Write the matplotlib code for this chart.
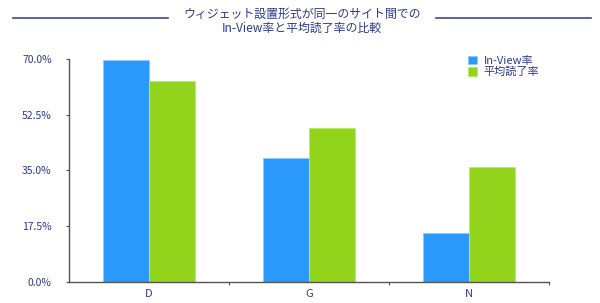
import numpy as np
import matplotlib
matplotlib.use("Agg")
import matplotlib.pyplot as plt
from matplotlib.lines import Line2D

plt.rcParams['font.family'] = ['Noto Sans CJK JP', 'DejaVu Sans']

# ---- data ----
categories = ["D", "G", "N"]
inview = [69.8, 38.8, 15.5]
readrate = [63.1, 48.2, 36.0]
series_names = ["In-View率", "平均読了率"]
yticks = [0, 17.5, 35.0, 52.5, 70.0]
title = "ウィジェット設置形式が同一のサイト間での\nIn-View率と平均読了率の比較"

navy = "#2b3a8c"
blue = "#2b99fc"
green = "#92d31b"

fig = plt.figure(figsize=(6, 3.03), dpi=100)
ax = fig.add_axes([0.115, 0.0693, 0.80, 0.736])

x = np.arange(len(categories))
w = 0.2875
ax.bar(x - w / 2, inview, w, color=blue, edgecolor="#8cc8ff", linewidth=0.6, label=series_names[0])
ax.bar(x + w / 2, readrate, w, color=green, edgecolor="#b8ec5a", linewidth=0.6, label=series_names[1])

ax.set_xlim(-0.5, 2.5)
ax.set_ylim(0, 70)
ax.set_yticks(yticks)
ax.set_yticklabels([f"{v:.1f}%" for v in yticks])
ax.set_xticks(x)
ax.set_xticklabels(categories)
ax.set_xticks([0.5, 1.5, 2.5], minor=True)
ax.tick_params(axis="x", which="major", length=0, pad=5, labelsize=8, labelcolor=navy)
ax.tick_params(axis="x", which="minor", length=2.5, width=0.8, color="#555555")
ax.tick_params(axis="y", length=2.5, width=0.8, color="#555555", pad=10, labelsize=7.5, labelcolor=navy)

for s in ["top", "right"]:
    ax.spines[s].set_visible(False)
for s in ["left", "bottom"]:
    ax.spines[s].set_color("#555555")
    ax.spines[s].set_linewidth(1.0)

leg = ax.legend(loc="upper left", bbox_to_anchor=(0.822, 1.035), frameon=False,
                fontsize=8, handlelength=0.8, handleheight=0.8, handletextpad=0.6,
                labelspacing=0.1, borderaxespad=0)
for t in leg.get_texts():
    t.set_color(navy)

# title with rules on both sides
fig.text(0.503, 0.928, title, ha="center", va="center", fontsize=8.6, color=navy, linespacing=1.1)
fig.add_artist(Line2D([0.022, 0.28], [0.94, 0.94], color="#3a4a8a", lw=1.2))
fig.add_artist(Line2D([0.727, 0.985], [0.94, 0.94], color="#3a4a8a", lw=1.2))

fig.savefig("out.png", dpi=100)
